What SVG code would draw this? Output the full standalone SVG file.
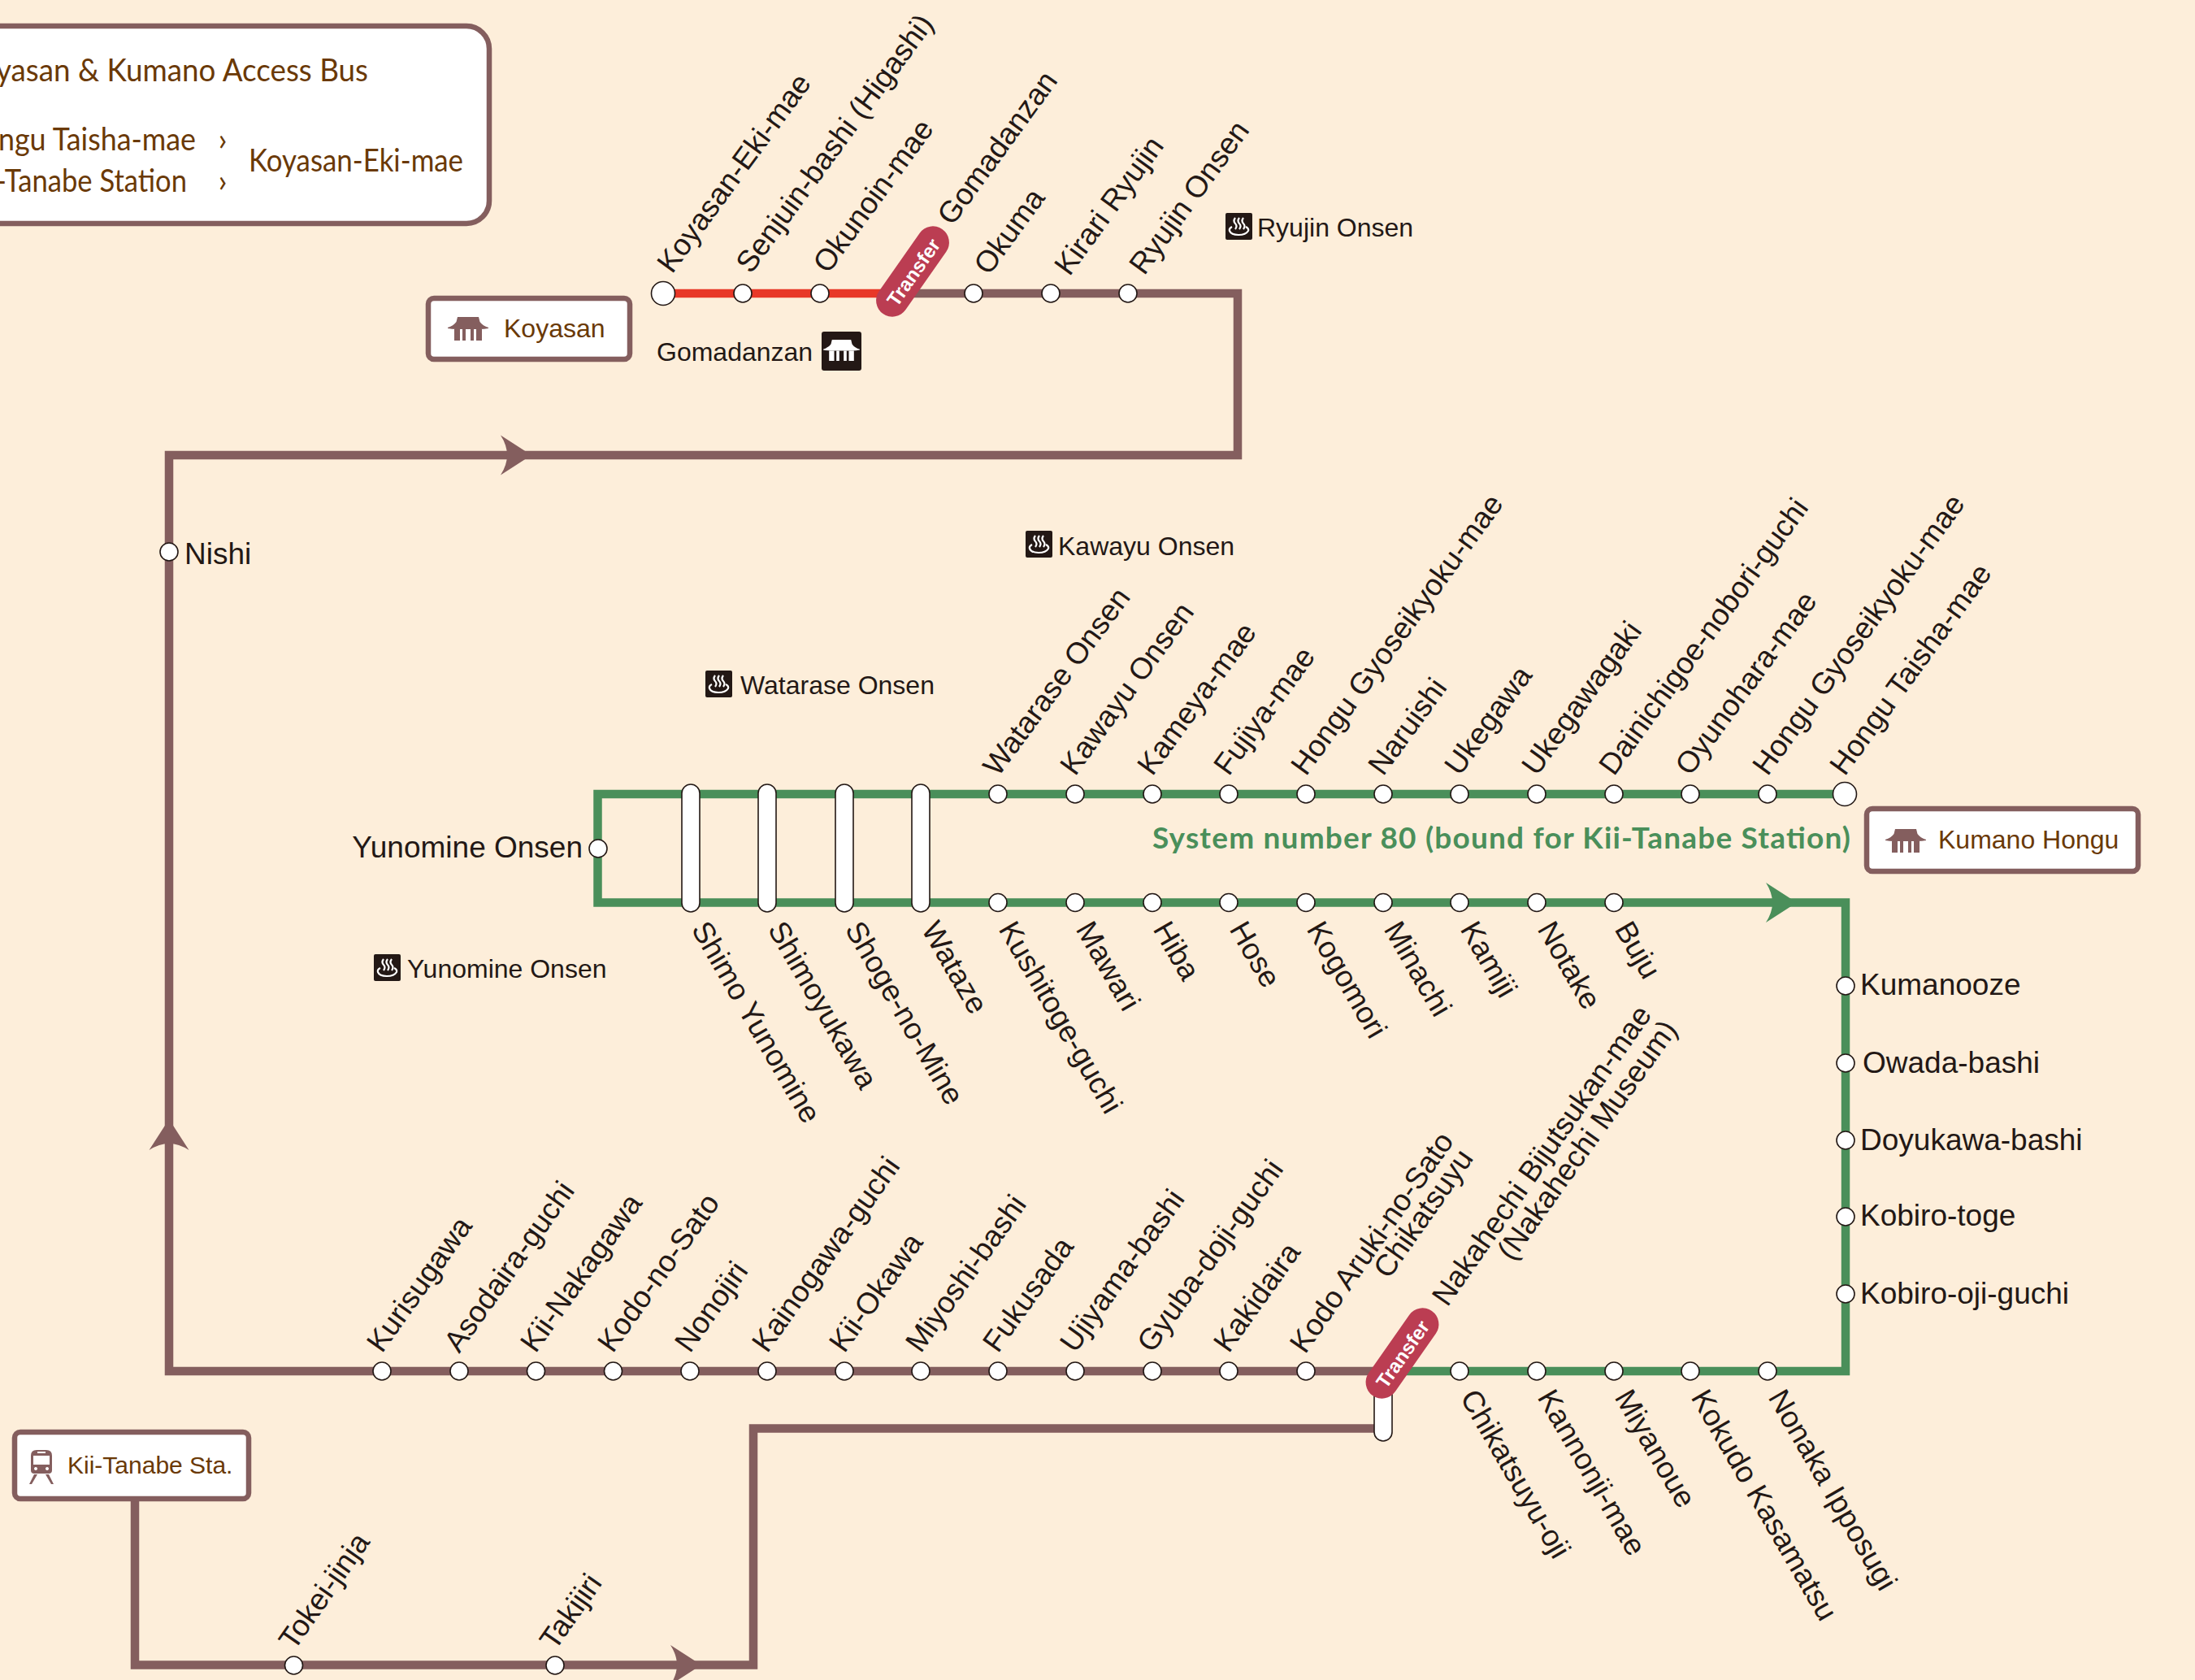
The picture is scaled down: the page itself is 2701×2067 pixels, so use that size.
<svg xmlns="http://www.w3.org/2000/svg" width="2701" height="2067" viewBox="0 0 2701 2067">
<style>
text{font-family:"Liberation Sans",Arial,sans-serif}
.l{font-size:37px;fill:#231815}
.s{font-size:32px;fill:#231815}
.b{font-size:32px;fill:#6a3906}
.m{font-family:Lato,"Liberation Sans",sans-serif;font-size:39px;fill:#6a3906}
.st{fill:#fff;stroke:#231815;stroke-width:1.6}
.box{fill:#fff;stroke:#845e5e;stroke-width:6.5}
.rt{fill:none;stroke-width:10.5;stroke-linejoin:miter;stroke-linecap:butt}
.br{stroke:#845e5e}.gr{stroke:#4a8f5a}.rd{stroke:#e83828}
.pill{fill:#bb3d52}
.tr{font-size:24px;font-weight:700;fill:#fff;text-anchor:middle}
</style>
<defs>
<path id="arrow" d="M0 0L-38-24.500Q-30-12-30 0Q-30 12-38 24.500Z"/>
<g id="temple"><path d="M12 0H38L39.500 6Q43 11 50 13V14Q45 15 40 15H10Q5 15 0 14V13Q7 11 10.500 6Z"/><path d="M8 15h7v14H8ZM18 15h4v14h-4ZM28 15h4v14h-4ZM35 15h7v14h-7Z"/></g>
<g id="onsen"><rect width="33" height="33" rx="2" fill="#231815"/><path d="M12 6q-3 4 0 7t0 7M17 6q-3 4 0 7t0 7M22 6q-3 4 0 7t0 7M8 17q-4 2-3 5 2 5 11 5t12-5q1-3-3-5" fill="none" stroke="#fff" stroke-width="2.200"/></g>
</defs>
<rect width="2701" height="2067" fill="#fdeeda"/>
<g id="connectors">
<path class="rt br" d="M166 1847V2048.500H927V1757.500H1695"/>
<path class="rt br" d="M1123 361H1523V560H208V1687H1725"/>
<path class="rt rd" d="M816 361H1100"/>
<path class="rt gr" d="M1725 1687H2271V1110.500H735.500V977H2270"/>
<use href="#arrow" fill="#845e5e" transform="translate(654 560)"/>
<use href="#arrow" fill="#845e5e" transform="translate(208 1377) rotate(-90)"/>
<use href="#arrow" fill="#845e5e" transform="translate(863 2048.500)"/>
<use href="#arrow" fill="#4a8f5a" transform="translate(2211 1110.500)"/>
</g>
<g id="info-box"><rect class="box" x="-30" y="32" width="632" height="243" rx="28"/>
<text class="m" x="-5" y="100" textLength="458" lengthAdjust="spacingAndGlyphs">yasan &amp; Kumano Access Bus</text>
<text class="m" x="-2" y="185" textLength="243" lengthAdjust="spacingAndGlyphs">ngu Taisha-mae</text>
<text class="m" x="-5" y="236" textLength="235" lengthAdjust="spacingAndGlyphs">-Tanabe Station</text>
<text class="m" x="274" y="185" text-anchor="middle">›</text>
<text class="m" x="274" y="236" text-anchor="middle">›</text>
<text class="m" x="306" y="211" textLength="264" lengthAdjust="spacingAndGlyphs">Koyasan-Eki-mae</text></g>
<g id="box-koyasan"><rect class="box" x="527" y="367" width="248" height="75" rx="7"/><use href="#temple" fill="#845e5e" x="551" y="390"/><text class="b" x="620" y="415">Koyasan</text></g>
<g id="box-kumano"><rect class="box" x="2297" y="995" width="334" height="77" rx="7"/><use href="#temple" fill="#845e5e" x="2320" y="1020"/><text class="b" x="2385" y="1044">Kumano Hongu</text></g>
<g id="box-tanabe"><rect class="box" x="18" y="1762" width="288" height="82" rx="7"/>
<path fill="#845e5e" fill-rule="evenodd" d="M45 1784H57Q64 1784 64 1791V1809Q64 1813 60 1813H42Q38 1813 38 1809V1791Q38 1784 45 1784ZM46 1786V1788H56V1786ZM41 1791V1802H61V1791ZM44 1805a2 2 0 1 0 .01 0ZM58 1805a2 2 0 1 0 .01 0ZM42 1814H46L39 1826H36ZM60 1814H56L63 1826H66Z"/><text class="b" x="83" y="1813" style="font-size:30px">Kii-Tanabe Sta.</text></g>
<g id="gomadanzan-mark"><text class="s" x="808" y="444">Gomadanzan</text><rect x="1011" y="408" width="49" height="48" rx="3" fill="#231815"/><use href="#temple" fill="#fff" transform="translate(1013 418) scale(.9)"/></g>
<g id="onsen-ryujin"><use href="#onsen" x="1508" y="262"/><text class="s" x="1547" y="291">Ryujin Onsen</text></g>
<g id="onsen-kawayu"><use href="#onsen" x="1262" y="653"/><text class="s" x="1302" y="683">Kawayu Onsen</text></g>
<g id="onsen-watarase"><use href="#onsen" x="868" y="825"/><text class="s" x="911" y="854">Watarase Onsen</text></g>
<g id="onsen-yunomine"><use href="#onsen" x="460" y="1174"/><text class="s" x="501" y="1203">Yunomine Onsen</text></g>
<text id="system-note" x="1418" y="1044" textLength="859" lengthAdjust="spacing" style="font-family:Lato,'Liberation Sans',sans-serif;font-size:37px;font-weight:700;fill:#4a8f5a">System number 80 (bound for Kii-Tanabe Station)</text>

<g id="koyasan-eki-mae"><circle class="st" cx="816" cy="361" r="14.500"/><text class="l" transform="translate(827 338) rotate(-53.800)">Koyasan-Eki-mae</text></g>
<g id="senjuin-bashi"><circle class="st" cx="914" cy="361" r="11"/><text class="l" transform="translate(924 338) rotate(-53.800)">Senjuin-bashi (Higashi)</text></g>
<g id="okunoin-mae"><circle class="st" cx="1009" cy="361" r="11"/><text class="l" transform="translate(1019 338) rotate(-53.800)">Okunoin-mae</text></g>
<g id="gomadanzan"><rect class="pill" x="1103" y="270.500" width="40" height="127" rx="20" transform="rotate(35 1123 334)"/><text class="tr" transform="translate(1131 340) rotate(-55)">Transfer</text><text class="l" transform="translate(1172 279) rotate(-54)">Gomadanzan</text></g>
<g id="okuma"><circle class="st" cx="1198" cy="361" r="11"/><text class="l" transform="translate(1217 340) rotate(-54)">Okuma</text></g>
<g id="kirari-ryujin"><circle class="st" cx="1293" cy="361" r="11"/><text class="l" transform="translate(1316 341) rotate(-54)">Kirari Ryujin</text></g>
<g id="ryujin-onsen"><circle class="st" cx="1388" cy="361" r="11"/><text class="l" transform="translate(1408 340) rotate(-54)">Ryujin Onsen</text></g>
<g id="nishi"><circle class="st" cx="208" cy="679" r="11"/><text class="l" x="227" y="694">Nishi</text></g>
<g id="yunomine-onsen"><circle class="st" cx="736" cy="1044" r="11"/><text class="l" x="717" y="1055" text-anchor="end">Yunomine Onsen</text></g>

<g id="shimo-yunomine"><rect class="st" x="839" y="965" width="22" height="157" rx="11"/><text class="l" transform="translate(850 1143) rotate(60)">Shimo Yunomine</text></g>
<g id="shimoyukawa"><rect class="st" x="933" y="965" width="22" height="157" rx="11"/><text class="l" transform="translate(944 1143) rotate(60)">Shimoyukawa</text></g>
<g id="shoge-no-mine"><rect class="st" x="1028" y="965" width="22" height="157" rx="11"/><text class="l" transform="translate(1039 1143) rotate(60)">Shoge-no-Mine</text></g>
<g id="wataze"><rect class="st" x="1122" y="965" width="22" height="157" rx="11"/><text class="l" transform="translate(1133 1143) rotate(60)">Wataze</text></g>

<g id="watarase-onsen"><circle class="st" cx="1228" cy="977" r="11"/><text class="l" transform="translate(1228 957) rotate(-53.500)">Watarase Onsen</text></g>
<g id="kawayu-onsen"><circle class="st" cx="1323" cy="977" r="11"/><text class="l" transform="translate(1323 956) rotate(-54)">Kawayu Onsen</text></g>
<g id="kameya-mae"><circle class="st" cx="1418" cy="977" r="11"/><text class="l" transform="translate(1418 956) rotate(-54)">Kameya-mae</text></g>
<g id="fujiya-mae"><circle class="st" cx="1512" cy="977" r="11"/><text class="l" transform="translate(1512 956) rotate(-54)">Fujiya-mae</text></g>
<g id="hongu-gyoseikyoku-mae-1"><circle class="st" cx="1607" cy="977" r="11"/><text class="l" transform="translate(1607 956) rotate(-54)">Hongu Gyoseikyoku-mae</text></g>
<g id="naruishi"><circle class="st" cx="1702" cy="977" r="11"/><text class="l" transform="translate(1702 956) rotate(-54)">Naruishi</text></g>
<g id="ukegawa"><circle class="st" cx="1796" cy="977" r="11"/><text class="l" transform="translate(1796 956) rotate(-54)">Ukegawa</text></g>
<g id="ukegawagaki"><circle class="st" cx="1891" cy="977" r="11"/><text class="l" transform="translate(1891 956) rotate(-54)">Ukegawagaki</text></g>
<g id="dainichigoe"><circle class="st" cx="1986" cy="977" r="11"/><text class="l" transform="translate(1986 956) rotate(-54)">Dainichigoe-nobori-guchi</text></g>
<g id="oyunohara-mae"><circle class="st" cx="2080" cy="977" r="11"/><text class="l" transform="translate(2080 956) rotate(-54)">Oyunohara-mae</text></g>
<g id="hongu-gyoseikyoku-mae-2"><circle class="st" cx="2175" cy="977" r="11"/><text class="l" transform="translate(2175 956) rotate(-54)">Hongu Gyoseikyoku-mae</text></g>
<g id="hongu-taisha-mae"><circle class="st" cx="2270" cy="977" r="14.500"/><text class="l" transform="translate(2270 956) rotate(-54)">Hongu Taisha-mae</text></g>

<g id="kushitoge-guchi"><circle class="st" cx="1228" cy="1110.500" r="11"/><text class="l" transform="translate(1228 1143) rotate(60)">Kushitoge-guchi</text></g>
<g id="mawari"><circle class="st" cx="1323" cy="1110.500" r="11"/><text class="l" transform="translate(1323 1143) rotate(60)">Mawari</text></g>
<g id="hiba"><circle class="st" cx="1418" cy="1110.500" r="11"/><text class="l" transform="translate(1418 1143) rotate(60)">Hiba</text></g>
<g id="hose"><circle class="st" cx="1512" cy="1110.500" r="11"/><text class="l" transform="translate(1512 1143) rotate(60)">Hose</text></g>
<g id="kogomori"><circle class="st" cx="1607" cy="1110.500" r="11"/><text class="l" transform="translate(1607 1143) rotate(60)">Kogomori</text></g>
<g id="minachi"><circle class="st" cx="1702" cy="1110.500" r="11"/><text class="l" transform="translate(1702 1143) rotate(60)">Minachi</text></g>
<g id="kamiji"><circle class="st" cx="1796" cy="1110.500" r="11"/><text class="l" transform="translate(1796 1143) rotate(60)">Kamiji</text></g>
<g id="notake"><circle class="st" cx="1891" cy="1110.500" r="11"/><text class="l" transform="translate(1891 1143) rotate(60)">Notake</text></g>
<g id="buju"><circle class="st" cx="1986" cy="1110.500" r="11"/><text class="l" transform="translate(1986 1143) rotate(60)">Buju</text></g>

<g id="kumanooze"><circle class="st" cx="2271" cy="1213" r="11"/><text class="l" x="2289" y="1224">Kumanooze</text></g>
<g id="owada-bashi"><circle class="st" cx="2271" cy="1308" r="11"/><text class="l" x="2292" y="1320">Owada-bashi</text></g>
<g id="doyukawa-bashi"><circle class="st" cx="2271" cy="1403" r="11"/><text class="l" x="2289" y="1415">Doyukawa-bashi</text></g>
<g id="kobiro-toge"><circle class="st" cx="2271" cy="1497" r="11"/><text class="l" x="2289" y="1508">Kobiro-toge</text></g>
<g id="kobiro-oji-guchi"><circle class="st" cx="2271" cy="1592" r="11"/><text class="l" x="2289" y="1604">Kobiro-oji-guchi</text></g>

<g id="kurisugawa"><circle class="st" cx="470" cy="1687" r="11"/><text class="l" transform="translate(470 1666) rotate(-54.500)">Kurisugawa</text></g>
<g id="asodaira-guchi"><circle class="st" cx="565" cy="1687" r="11"/><text class="l" transform="translate(565 1666) rotate(-54.500)">Asodaira-guchi</text></g>
<g id="kii-nakagawa"><circle class="st" cx="659.500" cy="1687" r="11"/><text class="l" transform="translate(659 1666) rotate(-54.500)">Kii-Nakagawa</text></g>
<g id="kodo-no-sato"><circle class="st" cx="754.500" cy="1687" r="11"/><text class="l" transform="translate(754 1666) rotate(-54.500)">Kodo-no-Sato</text></g>
<g id="nonojiri"><circle class="st" cx="849" cy="1687" r="11"/><text class="l" transform="translate(849 1666) rotate(-54.500)">Nonojiri</text></g>
<g id="kainogawa-guchi"><circle class="st" cx="944" cy="1687" r="11"/><text class="l" transform="translate(944 1666) rotate(-54.500)">Kainogawa-guchi</text></g>
<g id="kii-okawa"><circle class="st" cx="1039" cy="1687" r="11"/><text class="l" transform="translate(1039 1666) rotate(-54.500)">Kii-Okawa</text></g>
<g id="miyoshi-bashi"><circle class="st" cx="1133" cy="1687" r="11"/><text class="l" transform="translate(1133 1666) rotate(-54.500)">Miyoshi-bashi</text></g>
<g id="fukusada"><circle class="st" cx="1228" cy="1687" r="11"/><text class="l" transform="translate(1228 1666) rotate(-54.500)">Fukusada</text></g>
<g id="ujiyama-bashi"><circle class="st" cx="1323" cy="1687" r="11"/><text class="l" transform="translate(1323 1666) rotate(-54.500)">Ujiyama-bashi</text></g>
<g id="gyuba-doji-guchi"><circle class="st" cx="1418" cy="1687" r="11"/><text class="l" transform="translate(1418 1666) rotate(-54.500)">Gyuba-doji-guchi</text></g>
<g id="kakidaira"><circle class="st" cx="1512" cy="1687" r="11"/><text class="l" transform="translate(1512 1666) rotate(-54.500)">Kakidaira</text></g>
<g id="kodo-aruki"><circle class="st" cx="1607" cy="1687" r="11"/><text class="l" transform="translate(1606 1667) rotate(-55)">Kodo Aruki-no-Sato</text><text class="l" transform="translate(1709 1575) rotate(-55)">Chikatsuyu</text></g>
<g id="nakahechi"><rect class="st" x="1691" y="1690" width="22" height="83" rx="11"/><rect class="pill" x="1705.500" y="1601.500" width="40" height="127" rx="20" transform="rotate(35 1725.500 1665)"/><text class="tr" transform="translate(1733 1671) rotate(-55)">Transfer</text><text class="l" transform="translate(1781 1609) rotate(-55)">Nakahechi Bijutsukan-mae</text><text class="l" transform="translate(1861 1553) rotate(-54.500)">(Nakahechi Museum)</text></g>

<g id="chikatsuyu-oji"><circle class="st" cx="1796" cy="1687" r="11"/><text class="l" transform="translate(1796 1719) rotate(60)">Chikatsuyu-oji</text></g>
<g id="kannonji-mae"><circle class="st" cx="1891" cy="1687" r="11"/><text class="l" transform="translate(1891 1719) rotate(60)">Kannonji-mae</text></g>
<g id="miyanoue"><circle class="st" cx="1986" cy="1687" r="11"/><text class="l" transform="translate(1986 1719) rotate(60)">Miyanoue</text></g>
<g id="kokudo-kasamatsu"><circle class="st" cx="2080" cy="1687" r="11"/><text class="l" transform="translate(2080 1719) rotate(60)">Kokudo Kasamatsu</text></g>
<g id="nonaka-ipposugi"><circle class="st" cx="2175" cy="1687" r="11"/><text class="l" transform="translate(2175 1719) rotate(60)">Nonaka Ipposugi</text></g>

<g id="tokei-jinja"><circle class="st" cx="361.500" cy="2049" r="11"/><text class="l" transform="translate(362 2032) rotate(-55)">Tokei-jinja</text></g>
<g id="takijiri"><circle class="st" cx="683" cy="2049" r="11"/><text class="l" transform="translate(683 2032) rotate(-55)">Takijiri</text></g>
</svg>
